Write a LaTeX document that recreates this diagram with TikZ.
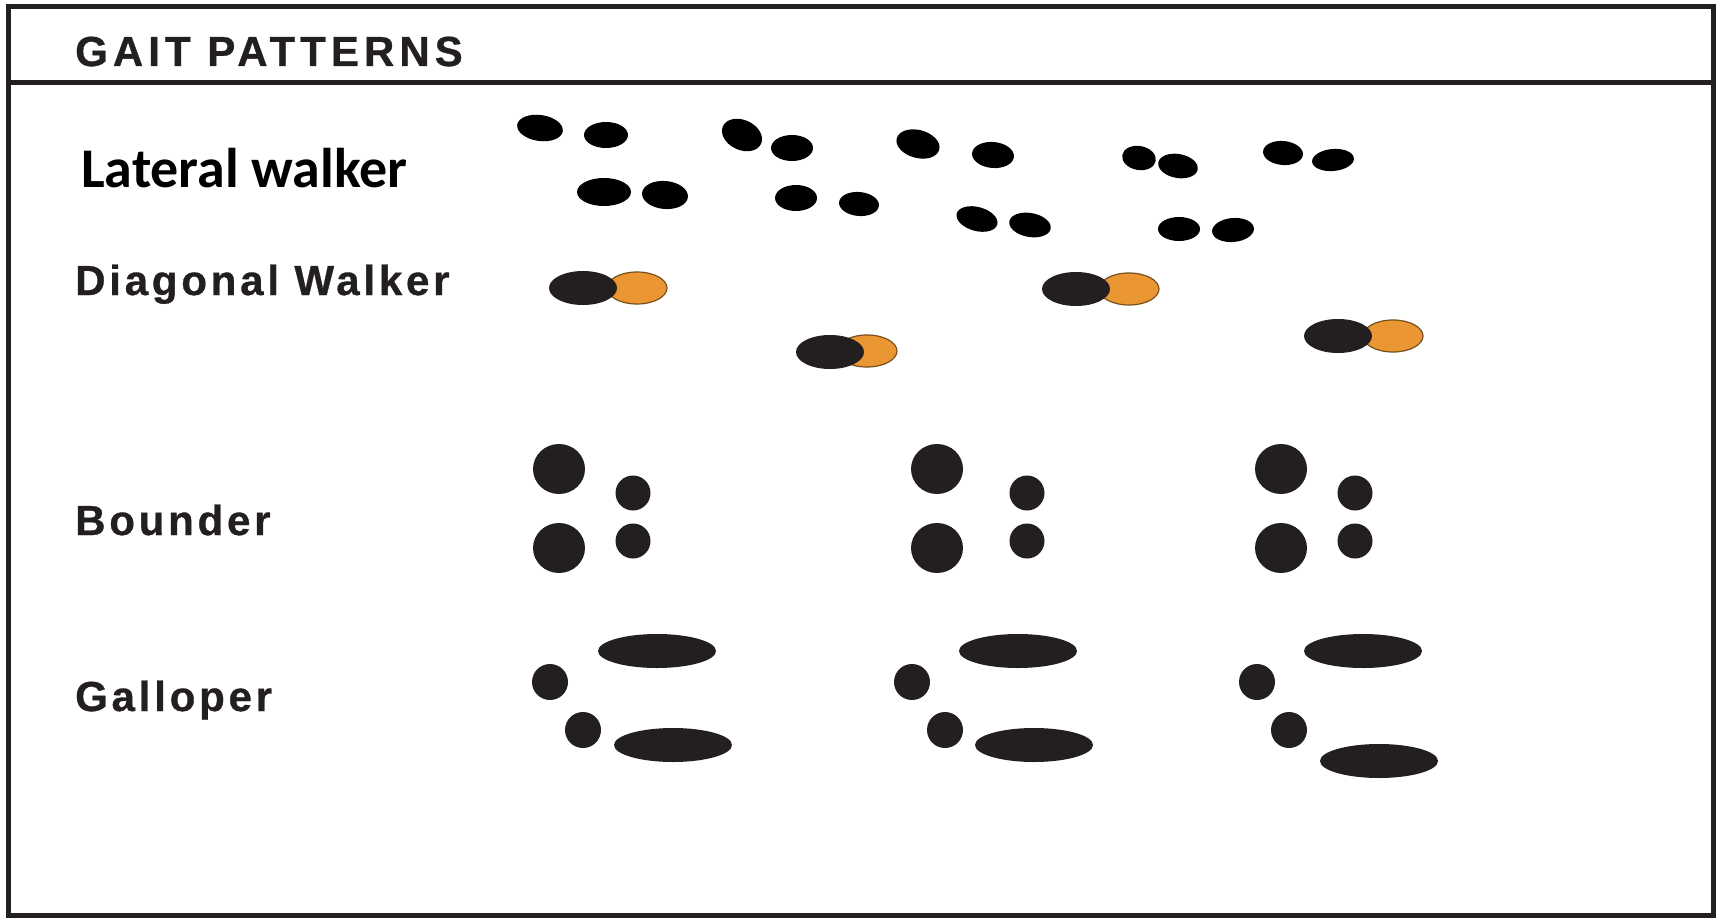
\documentclass[tikz,border=0pt]{standalone}
\usepackage{fontspec}
\usetikzlibrary{positioning}
\newfontfamily\titrefont[LetterSpace=9,BoldFeatures={FakeBold=0.7}]{Liberation Sans}
\newfontfamily\etiquettefont{Carlito}
\definecolor{noirpatte}{RGB}{35,31,32}
\definecolor{orangepatte}{RGB}{234,150,50}
\definecolor{bordorange}{RGB}{120,80,30}
\begin{document}
\begin{tikzpicture}[x=1pt,y=-1pt]
			% Styles
			\tikzstyle{cadre}=[draw=noirpatte,line width=5pt]
			\tikzstyle{titre}=[anchor=base west,inner sep=0pt,text=noirpatte,font=\titrefont\bfseries\fontsize{42}{42}\selectfont]
			\tikzstyle{entetestyle}=[titre,font=\titrefont\bfseries\fontsize{42}{42}\selectfont\addfontfeature{LetterSpace=12}]
			\tikzstyle{titrebis}=[anchor=base west,inner sep=0pt,text=black,font=\etiquettefont\bfseries\fontsize{56}{56}\selectfont]
			\tikzstyle{patte}=[fill=black]
			\tikzstyle{tache}=[fill=noirpatte]
			\tikzstyle{talon}=[fill=orangepatte,draw=bordorange,line width=1.2pt]
			% Dimensions
			\def\Largeur{1721}
			\def\Hauteur{923}
			\def\Marge{75}
			\def\PetitR{17.5pt}
			\def\GrandR{26pt}
			\def\RondR{18pt}
			% Cadre
			\useasboundingbox (0,0) rectangle (\Largeur,\Hauteur);
			\fill[white] (0,0) rectangle (\Largeur,\Hauteur);
			\draw[cadre] (8,7) rectangle (1713,915);
			\draw[cadre] (8,83) -- (1713,83);
			% Titres
			\node[entetestyle] (entete) at (\Marge,66) {GAIT PATTERNS};
			\node[titrebis] (lateral) at (81,187) {Lateral walker};
			\node[titre] (diagonal) at (\Marge,295) {Diagonal Walker};
			\node[titre] (bondisseur) at (\Marge,535) {Bounder};
			\node[titre] (galop) at (\Marge,711) {Galloper};
			% Empreintes : marcheur lateral
			\fill[patte,rotate around={-8:(540,128)}] (540,128) ellipse [x radius=23pt,y radius=13pt];
			\fill[patte] (606,135) ellipse [x radius=22pt,y radius=13pt];
			\fill[patte,rotate around={-25:(742,135)}] (742,135) ellipse [x radius=21pt,y radius=15pt];
			\fill[patte] (792,148) ellipse [x radius=21pt,y radius=13pt];
			\fill[patte,rotate around={-15:(918,144)}] (918,144) ellipse [x radius=22pt,y radius=14pt];
			\fill[patte,rotate around={-5:(993,155)}] (993,155) ellipse [x radius=21pt,y radius=13pt];
			\fill[patte,rotate around={-10:(1139,158)}] (1139,158) ellipse [x radius=17pt,y radius=12pt];
			\fill[patte,rotate around={-10:(1178,166)}] (1178,166) ellipse [x radius=20pt,y radius=12pt];
			\fill[patte,rotate around={-5:(1283,153)}] (1283,153) ellipse [x radius=20pt,y radius=12pt];
			\fill[patte,rotate around={5:(1333,160)}] (1333,160) ellipse [x radius=21pt,y radius=11pt];
			%
			\fill[patte] (604,192) ellipse [x radius=27pt,y radius=14pt];
			\fill[patte,rotate around={-5:(665,195)}] (665,195) ellipse [x radius=23pt,y radius=14pt];
			\fill[patte] (796,198) ellipse [x radius=21pt,y radius=13pt];
			\fill[patte,rotate around={-5:(859,204)}] (859,204) ellipse [x radius=20pt,y radius=12pt];
			\fill[patte,rotate around={-15:(977,219)}] (977,219) ellipse [x radius=21pt,y radius=12pt];
			\fill[patte,rotate around={-10:(1030,225)}] (1030,225) ellipse [x radius=21pt,y radius=12pt];
			\fill[patte] (1179,229) ellipse [x radius=21pt,y radius=12pt];
			\fill[patte,rotate around={5:(1233,230)}] (1233,230) ellipse [x radius=21pt,y radius=12pt];
			% Empreintes : marcheur diagonal
			\draw[talon] (637,288) ellipse [x radius=30pt,y radius=16pt];
			\fill[tache] (583,288) ellipse [x radius=34pt,y radius=17pt];
			\draw[talon] (867,351) ellipse [x radius=30pt,y radius=16pt];
			\fill[tache] (830,352) ellipse [x radius=34pt,y radius=17pt];
			\draw[talon] (1129,289) ellipse [x radius=30pt,y radius=16pt];
			\fill[tache] (1076,289) ellipse [x radius=34pt,y radius=17pt];
			\draw[talon] (1393,336) ellipse [x radius=30pt,y radius=16pt];
			\fill[tache] (1338,336) ellipse [x radius=34pt,y radius=17pt];
			% Empreintes : bondisseur
			\fill[tache] (559,469) ellipse [x radius=\GrandR,y radius=25pt];
			\fill[tache] (559,548) ellipse [x radius=\GrandR,y radius=25pt];
			\fill[tache] (633,493) circle [radius=\PetitR];
			\fill[tache] (633,541) circle [radius=\PetitR];
			\fill[tache] (937,469) ellipse [x radius=\GrandR,y radius=25pt];
			\fill[tache] (937,548) ellipse [x radius=\GrandR,y radius=25pt];
			\fill[tache] (1027,493) circle [radius=\PetitR];
			\fill[tache] (1027,541) circle [radius=\PetitR];
			\fill[tache] (1281,469) ellipse [x radius=\GrandR,y radius=25pt];
			\fill[tache] (1281,548) ellipse [x radius=\GrandR,y radius=25pt];
			\fill[tache] (1355,493) circle [radius=\PetitR];
			\fill[tache] (1355,541) circle [radius=\PetitR];
			% Empreintes : galopeur
			\fill[tache] (657,651) ellipse [x radius=59pt,y radius=17pt];
			\fill[tache] (550,682) circle [radius=\RondR];
			\fill[tache] (583,730) circle [radius=\RondR];
			\fill[tache] (673,745) ellipse [x radius=59pt,y radius=17pt];
			\fill[tache] (1018,651) ellipse [x radius=59pt,y radius=17pt];
			\fill[tache] (912,682) circle [radius=\RondR];
			\fill[tache] (945,730) circle [radius=\RondR];
			\fill[tache] (1034,745) ellipse [x radius=59pt,y radius=17pt];
			\fill[tache] (1363,651) ellipse [x radius=59pt,y radius=17pt];
			\fill[tache] (1257,682) circle [radius=\RondR];
			\fill[tache] (1289,730) circle [radius=\RondR];
			\fill[tache] (1379,761) ellipse [x radius=59pt,y radius=17pt];
		\end{tikzpicture}
\end{document}
